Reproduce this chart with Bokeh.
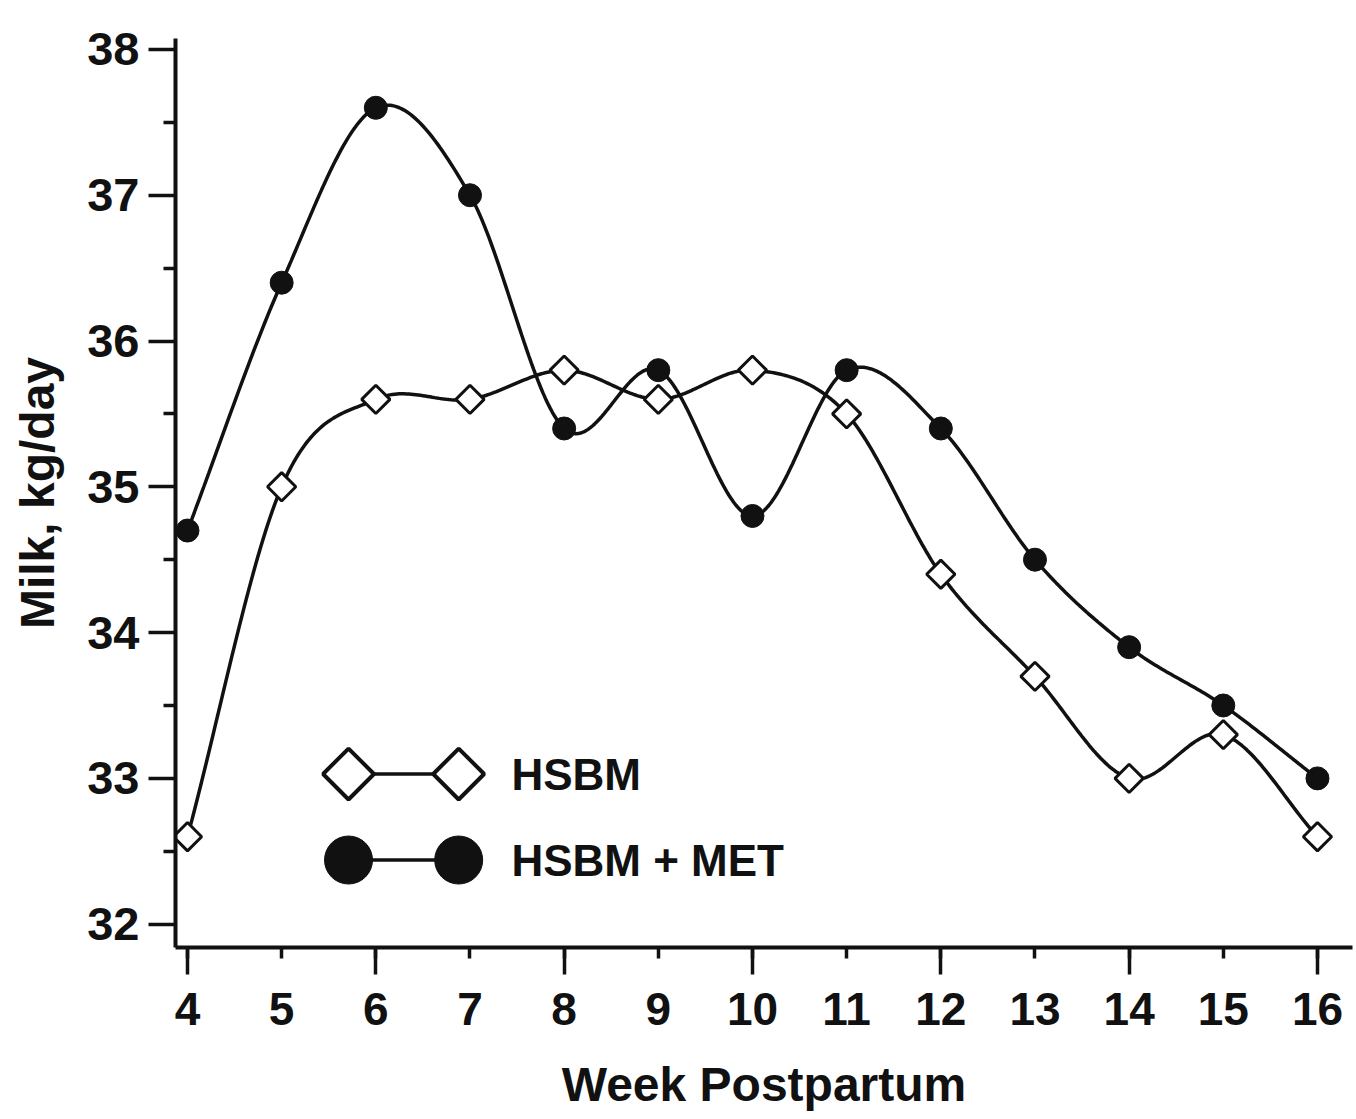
import numpy as np
from bokeh.plotting import figure
from bokeh.models import Range1d, FixedTicker
from bokeh.core.properties import value
from bokeh.embed import file_html
from bokeh.resources import INLINE

# ---------------- data ----------------
WEEKS = [4, 5, 6, 7, 8, 9, 10, 11, 12, 13, 14, 15, 16]
HSBM = [32.6, 35.0, 35.6, 35.6, 35.8, 35.6, 35.8, 35.5, 34.4, 33.7, 33.0, 33.3, 32.6]
HSBM_MET = [34.7, 36.4, 37.6, 37.0, 35.4, 35.8, 34.8, 35.8, 35.4, 34.5, 33.9, 33.5, 33.0]
Y_TICKS = [32, 33, 34, 35, 36, 37, 38]
X_TITLE = "Week Postpartum"
Y_TITLE = "Milk, kg/day"
LEGEND_LABELS = ["HSBM", "HSBM + MET"]

# ---------------- style / layout ----------------
FONT = "Liberation Sans"
INK = "#111111"
LEG_MARK_X = [5.71, 6.88]     # legend sample positions (layout, data units)
LEG_ROW_Y = [33.03, 32.44]
LEG_TEXT_X = 7.44


def smooth(xs, ys, n=40):
    """Cubic Hermite (Catmull-Rom style) curve through the given points."""
    xs = np.asarray(xs, float)
    ys = np.asarray(ys, float)
    m = np.gradient(ys, xs)
    out_x, out_y = [], []
    t = np.linspace(0, 1, n, endpoint=False)
    for i in range(len(xs) - 1):
        h = xs[i + 1] - xs[i]
        h00 = 2 * t**3 - 3 * t**2 + 1
        h10 = t**3 - 2 * t**2 + t
        h01 = -2 * t**3 + 3 * t**2
        h11 = t**3 - t**2
        out_x.extend(xs[i] + t * h)
        out_y.extend(h00 * ys[i] + h10 * h * m[i] + h01 * ys[i + 1] + h11 * h * m[i + 1])
    out_x.append(xs[-1])
    out_y.append(ys[-1])
    return out_x, out_y


p = figure(
    width=1354, height=1115,
    x_range=Range1d(3.8726, 16.372),
    y_range=Range1d(31.84, 38.075),
    output_backend="svg", toolbar_location=None,
    min_border_left=175, min_border_right=2,
    min_border_top=38, min_border_bottom=168,
)
p.grid.visible = False
p.outline_line_color = None
p.background_fill_color = "white"
p.border_fill_color = "white"

# y axis
ya = p.yaxis[0]
ya.ticker = FixedTicker(ticks=Y_TICKS, minor_ticks=[t + 0.5 for t in Y_TICKS[:-1]])
ya.axis_line_width = 4
ya.axis_line_color = INK
ya.major_tick_out = 27
ya.major_tick_in = 0
ya.minor_tick_out = 12
ya.minor_tick_in = 0
ya.major_tick_line_width = 3.5
ya.minor_tick_line_width = 3.5
ya.major_tick_line_color = INK
ya.minor_tick_line_color = INK
ya.major_label_text_font = FONT
ya.major_label_text_font_style = "bold"
ya.major_label_text_font_size = "47px"
ya.major_label_text_color = INK
ya.major_label_standoff = 9
ya.axis_label = Y_TITLE
ya.axis_label_text_font = FONT
ya.axis_label_text_font_style = "bold"
ya.axis_label_text_font_size = "48px"
ya.axis_label_text_color = INK
ya.axis_label_standoff = 20

# x axis: labels at every week; longer ticks at even weeks (drawn as minor ticks)
xa = p.xaxis[0]
xa.ticker = FixedTicker(ticks=WEEKS, minor_ticks=[w for w in WEEKS if w % 2 == 0])
xa.axis_line_width = 4
xa.axis_line_color = INK
xa.major_tick_out = 11
xa.major_tick_in = 0
xa.minor_tick_out = 27
xa.minor_tick_in = 0
xa.major_tick_line_width = 3.5
xa.minor_tick_line_width = 3.5
xa.major_tick_line_color = INK
xa.minor_tick_line_color = INK
xa.major_label_text_font = FONT
xa.major_label_text_font_style = "bold"
xa.major_label_text_font_size = "46px"
xa.major_label_text_color = INK
xa.major_label_standoff = 18
xa.axis_label = X_TITLE
xa.axis_label_text_font = FONT
xa.axis_label_text_font_style = "bold"
xa.axis_label_text_font_size = "48px"
xa.axis_label_text_color = INK
xa.axis_label_standoff = 30

# curves
sx, sy = smooth(WEEKS, HSBM)
p.line(sx, sy, line_color=INK, line_width=3.5)
mx, my = smooth(WEEKS, HSBM_MET)
p.line(mx, my, line_color=INK, line_width=3.5)

# markers
p.scatter(WEEKS, HSBM, marker="square", angle=np.pi / 4, size=20,
          fill_color="white", line_color=INK, line_width=3)
p.scatter(WEEKS, HSBM_MET, marker="circle", size=23,
          fill_color=INK, line_color=INK, line_width=1)

# legend (drawn as two marker-line-marker samples)
p.line(LEG_MARK_X, [LEG_ROW_Y[0]] * 2, line_color=INK, line_width=3.5)
p.scatter(LEG_MARK_X, [LEG_ROW_Y[0]] * 2, marker="square", angle=np.pi / 4, size=36,
          fill_color="white", line_color=INK, line_width=4)
p.line(LEG_MARK_X, [LEG_ROW_Y[1]] * 2, line_color=INK, line_width=3.5)
p.scatter(LEG_MARK_X, [LEG_ROW_Y[1]] * 2, marker="circle", size=48,
          fill_color=INK, line_color=INK)
p.text([LEG_TEXT_X] * 2, LEG_ROW_Y, text=LEGEND_LABELS,
       text_font=value(FONT), text_font_style="bold", text_font_size="44px",
       text_color=INK, text_baseline="middle", text_align="left")

open("out.html", "w").write(file_html(p, INLINE))
